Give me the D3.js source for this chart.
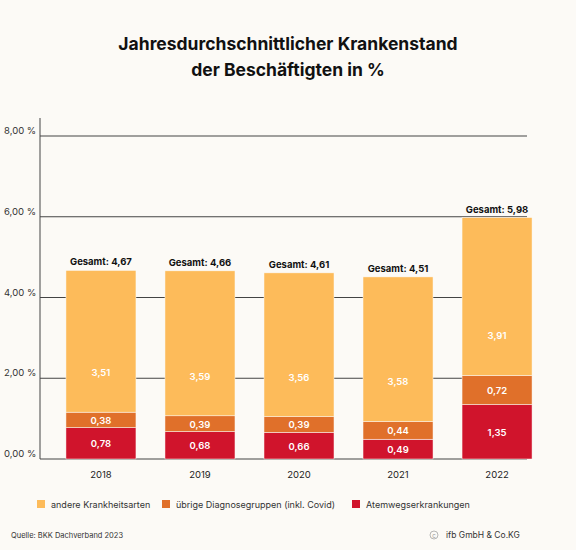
<!DOCTYPE html>
<html><head><meta charset="utf-8">
<script src="https://cdn.jsdelivr.net/npm/d3@7"></script>
<style>body{margin:0;background:#fcfaf6}</style></head>
<body><svg id="c" width="576" height="550"></svg>
<script>
const years=["2018","2019","2020","2021","2022"];
const atemweg=[0.78,0.68,0.66,0.49,1.35];
const uebrige=[0.38,0.39,0.39,0.44,0.72];
const andere=[3.51,3.59,3.56,3.58,3.91];
const gesamt=["4,67","4,66","4,61","4,51","5,98"];
const yTicks=[0,2,4,6,8];
const seriesNames=["andere Krankheitsarten","übrige Diagnosegruppen (inkl. Covid)","Atemwegserkrankungen"];
const colors=["#fdbb5a","#e0702a","#d0142c"];

const svg=d3.select("#c");
const F="Inter, 'Open Sans', sans-serif";
svg.append("rect").attr("width",576).attr("height",550).attr("fill","#fcfaf6");
svg.append("text").attr("x",288).attr("y",50).attr("text-anchor","middle").attr("font-family",F).attr("font-weight",700).attr("font-size",17.5).attr("fill","#111").text("Jahresdurchschnittlicher Krankenstand");
svg.append("text").attr("x",288).attr("y",76).attr("text-anchor","middle").attr("font-family",F).attr("font-weight",700).attr("font-size",17.5).attr("fill","#111").text("der Beschäftigten in %");

const x=d3.scaleBand().domain(years).range([51.5,546.5]).paddingInner(0.293).paddingOuter(0.146);
const y=d3.scaleLinear().domain([0,8]).range([459,136]);
const fmt=v=>d3.format(".2f")(v).replace(".",",");

const g=svg.append("g");
g.selectAll("line.grid").data(yTicks).join("line").attr("x1",40).attr("x2",527).attr("y1",d=>y(d)).attr("y2",d=>y(d)).attr("stroke","#444").attr("stroke-width",1);
g.append("line").attr("x1",40).attr("x2",40).attr("y1",118).attr("y2",y(0)).attr("stroke","#444");
g.selectAll("text.yt").data(yTicks).join("text").attr("x",4).attr("y",d=>y(d)-2).attr("font-family",F).attr("font-size",9.5).attr("fill","#333").text(d=>fmt(d)+" %");

years.forEach((yr,i)=>{
  const segs=[[0,atemweg[i],colors[2]],[atemweg[i],atemweg[i]+uebrige[i],colors[1]],[atemweg[i]+uebrige[i],atemweg[i]+uebrige[i]+andere[i],colors[0]]];
  const vals=[atemweg[i],uebrige[i],andere[i]];
  segs.forEach((s,k)=>{
    g.append("rect").attr("x",x(yr)).attr("width",x.bandwidth()).attr("y",y(s[1])).attr("height",y(s[0])-y(s[1])).attr("fill",s[2]).attr("stroke","#fcfaf6").attr("stroke-width",0.5);
    const ty=k==2? y(s[0])-36 : (y(s[0])+y(s[1]))/2+4;
    g.append("text").attr("x",x(yr)+x.bandwidth()/2).attr("y",ty).attr("text-anchor","middle").attr("font-family",F).attr("font-weight",600).attr("font-size",9.5).attr("fill","#fff").text(fmt(vals[k]));
  });
  const tot=atemweg[i]+uebrige[i]+andere[i];
  g.append("text").attr("x",x(yr)+x.bandwidth()/2).attr("y",y(tot)-5).attr("text-anchor","middle").attr("font-family",F).attr("font-weight",700).attr("font-size",9.5).attr("fill","#111").text("Gesamt: "+gesamt[i]);
  g.append("text").attr("x",x(yr)+x.bandwidth()/2).attr("y",478).attr("text-anchor","middle").attr("font-family",F).attr("font-size",9.5).attr("fill","#222").text(yr);
});

const lx=[37,162,352];
seriesNames.forEach((n,i)=>{
  svg.append("rect").attr("x",lx[i]).attr("y",500).attr("width",8).attr("height",8).attr("fill",colors[i]);
  svg.append("text").attr("x",lx[i]+14).attr("y",508).attr("font-family",F).attr("font-size",9).attr("fill","#333").text(n);
});
svg.append("text").attr("x",11).attr("y",538).attr("font-family",F).attr("font-size",7.5).attr("fill","#333").text("Quelle: BKK Dachverband  2023");
svg.append("circle").attr("cx",434).attr("cy",535).attr("r",4).attr("fill","none").attr("stroke","#999").attr("stroke-width",0.7);
svg.append("text").attr("x",434).attr("y",537.5).attr("text-anchor","middle").attr("font-family",F).attr("font-size",6).attr("fill","#999").text("c");
svg.append("text").attr("x",446).attr("y",538).attr("font-family",F).attr("font-size",8.5).attr("fill","#333").text("ifb GmbH & Co.KG");
</script></body></html>
